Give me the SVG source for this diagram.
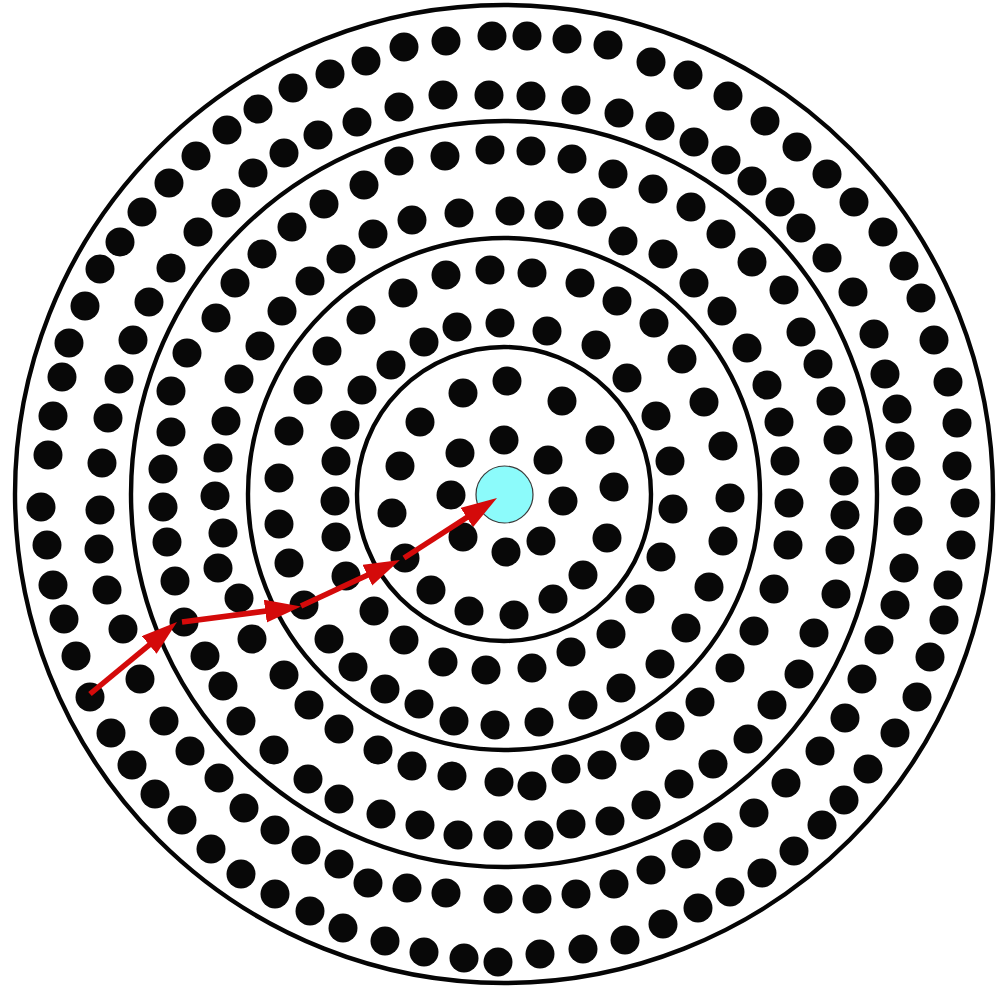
<svg xmlns="http://www.w3.org/2000/svg" width="1006" height="987" viewBox="0 0 1006 987">
<style>
.ring{fill:none;stroke:#050505;stroke-width:4.4}
.n circle{fill:#080808}
.hub circle{fill:#8cfbfb;stroke:#3a3a3a;stroke-width:1.2}
.arr{stroke:#d40a0a;stroke-width:5.5;fill:none}
</style>
<defs>
<marker id="ah" markerUnits="userSpaceOnUse" markerWidth="38" markerHeight="25" refX="26" refY="11.5" orient="auto">
<path d="M0,0 L36,11.5 L0,23 z" fill="#d40a0a"/>
</marker>
</defs>
<rect width="1006" height="987" fill="#fff"/>
<g id="rings">
<circle class="ring" cx="504" cy="494" r="489"/>
<circle class="ring" cx="504" cy="494" r="373"/>
<circle class="ring" cx="504" cy="494" r="256"/>
<circle class="ring" cx="504" cy="494" r="147"/>
</g>
<g id="nodes">
<g id="o1" class="n"><circle cx="366" cy="61" r="14.5"/></g>
<g id="o2" class="n"><circle cx="404" cy="47" r="14.5"/></g>
<g id="o3" class="n"><circle cx="446" cy="41" r="14.5"/></g>
<g id="o4" class="n"><circle cx="492" cy="36" r="14.5"/></g>
<g id="o5" class="n"><circle cx="527" cy="36" r="14.5"/></g>
<g id="o6" class="n"><circle cx="567" cy="39" r="14.5"/></g>
<g id="o7" class="n"><circle cx="608" cy="45" r="14.5"/></g>
<g id="o8" class="n"><circle cx="651" cy="62" r="14.5"/></g>
<g id="o9" class="n"><circle cx="688" cy="75" r="14.5"/></g>
<g id="o10" class="n"><circle cx="728" cy="96" r="14.5"/></g>
<g id="o11" class="n"><circle cx="765" cy="121" r="14.5"/></g>
<g id="o12" class="n"><circle cx="797" cy="147" r="14.5"/></g>
<g id="o13" class="n"><circle cx="827" cy="174" r="14.5"/></g>
<g id="o14" class="n"><circle cx="854" cy="202" r="14.5"/></g>
<g id="o15" class="n"><circle cx="883" cy="232" r="14.5"/></g>
<g id="o16" class="n"><circle cx="904" cy="266" r="14.5"/></g>
<g id="o17" class="n"><circle cx="921" cy="298" r="14.5"/></g>
<g id="o18" class="n"><circle cx="934" cy="340" r="14.5"/></g>
<g id="o19" class="n"><circle cx="948" cy="382" r="14.5"/></g>
<g id="o20" class="n"><circle cx="957" cy="423" r="14.5"/></g>
<g id="o21" class="n"><circle cx="957" cy="466" r="14.5"/></g>
<g id="o22" class="n"><circle cx="965" cy="503" r="14.5"/></g>
<g id="o23" class="n"><circle cx="961" cy="545" r="14.5"/></g>
<g id="o24" class="n"><circle cx="948" cy="585" r="14.5"/></g>
<g id="o25" class="n"><circle cx="944" cy="620" r="14.5"/></g>
<g id="o26" class="n"><circle cx="930" cy="657" r="14.5"/></g>
<g id="o27" class="n"><circle cx="917" cy="697" r="14.5"/></g>
<g id="o28" class="n"><circle cx="895" cy="733" r="14.5"/></g>
<g id="o29" class="n"><circle cx="868" cy="769" r="14.5"/></g>
<g id="o30" class="n"><circle cx="844" cy="800" r="14.5"/></g>
<g id="o31" class="n"><circle cx="822" cy="825" r="14.5"/></g>
<g id="o32" class="n"><circle cx="794" cy="851" r="14.5"/></g>
<g id="o33" class="n"><circle cx="762" cy="873" r="14.5"/></g>
<g id="o34" class="n"><circle cx="730" cy="892" r="14.5"/></g>
<g id="o35" class="n"><circle cx="698" cy="908" r="14.5"/></g>
<g id="o36" class="n"><circle cx="663" cy="924" r="14.5"/></g>
<g id="o37" class="n"><circle cx="625" cy="940" r="14.5"/></g>
<g id="o38" class="n"><circle cx="583" cy="949" r="14.5"/></g>
<g id="o39" class="n"><circle cx="540" cy="954" r="14.5"/></g>
<g id="o40" class="n"><circle cx="498" cy="962" r="14.5"/></g>
<g id="o41" class="n"><circle cx="464" cy="958" r="14.5"/></g>
<g id="o42" class="n"><circle cx="424" cy="952" r="14.5"/></g>
<g id="o43" class="n"><circle cx="385" cy="941" r="14.5"/></g>
<g id="o44" class="n"><circle cx="343" cy="928" r="14.5"/></g>
<g id="o45" class="n"><circle cx="310" cy="911" r="14.5"/></g>
<g id="o46" class="n"><circle cx="275" cy="894" r="14.5"/></g>
<g id="o47" class="n"><circle cx="241" cy="874" r="14.5"/></g>
<g id="o48" class="n"><circle cx="211" cy="849" r="14.5"/></g>
<g id="o49" class="n"><circle cx="182" cy="820" r="14.5"/></g>
<g id="o50" class="n"><circle cx="155" cy="794" r="14.5"/></g>
<g id="o51" class="n"><circle cx="132" cy="765" r="14.5"/></g>
<g id="o52" class="n"><circle cx="111" cy="733" r="14.5"/></g>
<g id="o53" class="n"><circle cx="90" cy="697" r="14.5"/></g>
<g id="o54" class="n"><circle cx="76" cy="656" r="14.5"/></g>
<g id="o55" class="n"><circle cx="64" cy="619" r="14.5"/></g>
<g id="o56" class="n"><circle cx="53" cy="585" r="14.5"/></g>
<g id="o57" class="n"><circle cx="47" cy="545" r="14.5"/></g>
<g id="o58" class="n"><circle cx="41" cy="507" r="14.5"/></g>
<g id="o59" class="n"><circle cx="48" cy="455" r="14.5"/></g>
<g id="o60" class="n"><circle cx="53" cy="416" r="14.5"/></g>
<g id="o61" class="n"><circle cx="62" cy="377" r="14.5"/></g>
<g id="o62" class="n"><circle cx="69" cy="343" r="14.5"/></g>
<g id="o63" class="n"><circle cx="85" cy="306" r="14.5"/></g>
<g id="o64" class="n"><circle cx="100" cy="269" r="14.5"/></g>
<g id="o65" class="n"><circle cx="120" cy="242" r="14.5"/></g>
<g id="o66" class="n"><circle cx="142" cy="212" r="14.5"/></g>
<g id="o67" class="n"><circle cx="169" cy="183" r="14.5"/></g>
<g id="o68" class="n"><circle cx="196" cy="156" r="14.5"/></g>
<g id="o69" class="n"><circle cx="227" cy="130" r="14.5"/></g>
<g id="o70" class="n"><circle cx="258" cy="109" r="14.5"/></g>
<g id="o71" class="n"><circle cx="293" cy="88" r="14.5"/></g>
<g id="o72" class="n"><circle cx="330" cy="74" r="14.5"/></g>
<g id="b1" class="n"><circle cx="357" cy="122" r="14.5"/></g>
<g id="b2" class="n"><circle cx="399" cy="107" r="14.5"/></g>
<g id="b3" class="n"><circle cx="443" cy="95" r="14.5"/></g>
<g id="b4" class="n"><circle cx="489" cy="95" r="14.5"/></g>
<g id="b5" class="n"><circle cx="531" cy="96" r="14.5"/></g>
<g id="b6" class="n"><circle cx="576" cy="100" r="14.5"/></g>
<g id="b7" class="n"><circle cx="619" cy="113" r="14.5"/></g>
<g id="b8" class="n"><circle cx="660" cy="126" r="14.5"/></g>
<g id="b9" class="n"><circle cx="694" cy="142" r="14.5"/></g>
<g id="b10" class="n"><circle cx="726" cy="160" r="14.5"/></g>
<g id="b11" class="n"><circle cx="752" cy="181" r="14.5"/></g>
<g id="b12" class="n"><circle cx="780" cy="202" r="14.5"/></g>
<g id="b13" class="n"><circle cx="801" cy="228" r="14.5"/></g>
<g id="b14" class="n"><circle cx="827" cy="258" r="14.5"/></g>
<g id="b15" class="n"><circle cx="853" cy="292" r="14.5"/></g>
<g id="b16" class="n"><circle cx="874" cy="334" r="14.5"/></g>
<g id="b17" class="n"><circle cx="885" cy="374" r="14.5"/></g>
<g id="b18" class="n"><circle cx="897" cy="409" r="14.5"/></g>
<g id="b19" class="n"><circle cx="900" cy="446" r="14.5"/></g>
<g id="b20" class="n"><circle cx="906" cy="481" r="14.5"/></g>
<g id="b21" class="n"><circle cx="908" cy="521" r="14.5"/></g>
<g id="b22" class="n"><circle cx="904" cy="568" r="14.5"/></g>
<g id="b23" class="n"><circle cx="895" cy="605" r="14.5"/></g>
<g id="b24" class="n"><circle cx="879" cy="640" r="14.5"/></g>
<g id="b25" class="n"><circle cx="862" cy="679" r="14.5"/></g>
<g id="b26" class="n"><circle cx="845" cy="718" r="14.5"/></g>
<g id="b27" class="n"><circle cx="820" cy="751" r="14.5"/></g>
<g id="b28" class="n"><circle cx="786" cy="783" r="14.5"/></g>
<g id="b29" class="n"><circle cx="754" cy="813" r="14.5"/></g>
<g id="b30" class="n"><circle cx="718" cy="837" r="14.5"/></g>
<g id="b31" class="n"><circle cx="686" cy="854" r="14.5"/></g>
<g id="b32" class="n"><circle cx="651" cy="870" r="14.5"/></g>
<g id="b33" class="n"><circle cx="614" cy="884" r="14.5"/></g>
<g id="b34" class="n"><circle cx="576" cy="894" r="14.5"/></g>
<g id="b35" class="n"><circle cx="537" cy="899" r="14.5"/></g>
<g id="b36" class="n"><circle cx="498" cy="899" r="14.5"/></g>
<g id="b37" class="n"><circle cx="446" cy="893" r="14.5"/></g>
<g id="b38" class="n"><circle cx="407" cy="888" r="14.5"/></g>
<g id="b39" class="n"><circle cx="368" cy="883" r="14.5"/></g>
<g id="b40" class="n"><circle cx="339" cy="864" r="14.5"/></g>
<g id="b41" class="n"><circle cx="306" cy="850" r="14.5"/></g>
<g id="b42" class="n"><circle cx="275" cy="830" r="14.5"/></g>
<g id="b43" class="n"><circle cx="244" cy="808" r="14.5"/></g>
<g id="b44" class="n"><circle cx="219" cy="778" r="14.5"/></g>
<g id="b45" class="n"><circle cx="190" cy="751" r="14.5"/></g>
<g id="b46" class="n"><circle cx="164" cy="721" r="14.5"/></g>
<g id="b47" class="n"><circle cx="140" cy="679" r="14.5"/></g>
<g id="b48" class="n"><circle cx="123" cy="629" r="14.5"/></g>
<g id="b49" class="n"><circle cx="107" cy="590" r="14.5"/></g>
<g id="b50" class="n"><circle cx="99" cy="549" r="14.5"/></g>
<g id="b51" class="n"><circle cx="100" cy="510" r="14.5"/></g>
<g id="b52" class="n"><circle cx="102" cy="463" r="14.5"/></g>
<g id="b53" class="n"><circle cx="108" cy="418" r="14.5"/></g>
<g id="b54" class="n"><circle cx="119" cy="379" r="14.5"/></g>
<g id="b55" class="n"><circle cx="133" cy="340" r="14.5"/></g>
<g id="b56" class="n"><circle cx="149" cy="302" r="14.5"/></g>
<g id="b57" class="n"><circle cx="171" cy="268" r="14.5"/></g>
<g id="b58" class="n"><circle cx="198" cy="232" r="14.5"/></g>
<g id="b59" class="n"><circle cx="226" cy="203" r="14.5"/></g>
<g id="b60" class="n"><circle cx="253" cy="173" r="14.5"/></g>
<g id="b61" class="n"><circle cx="284" cy="153" r="14.5"/></g>
<g id="b62" class="n"><circle cx="318" cy="135" r="14.5"/></g>
<g id="c1" class="n"><circle cx="364" cy="185" r="14.5"/></g>
<g id="c2" class="n"><circle cx="399" cy="161" r="14.5"/></g>
<g id="c3" class="n"><circle cx="445" cy="156" r="14.5"/></g>
<g id="c4" class="n"><circle cx="490" cy="150" r="14.5"/></g>
<g id="c5" class="n"><circle cx="531" cy="151" r="14.5"/></g>
<g id="c6" class="n"><circle cx="572" cy="159" r="14.5"/></g>
<g id="c7" class="n"><circle cx="613" cy="174" r="14.5"/></g>
<g id="c8" class="n"><circle cx="653" cy="189" r="14.5"/></g>
<g id="c9" class="n"><circle cx="691" cy="207" r="14.5"/></g>
<g id="c10" class="n"><circle cx="721" cy="234" r="14.5"/></g>
<g id="c11" class="n"><circle cx="752" cy="262" r="14.5"/></g>
<g id="c12" class="n"><circle cx="784" cy="290" r="14.5"/></g>
<g id="c13" class="n"><circle cx="801" cy="332" r="14.5"/></g>
<g id="c14" class="n"><circle cx="818" cy="364" r="14.5"/></g>
<g id="c15" class="n"><circle cx="831" cy="401" r="14.5"/></g>
<g id="c16" class="n"><circle cx="838" cy="440" r="14.5"/></g>
<g id="c17" class="n"><circle cx="844" cy="481" r="14.5"/></g>
<g id="c18" class="n"><circle cx="845" cy="515" r="14.5"/></g>
<g id="c19" class="n"><circle cx="840" cy="550" r="14.5"/></g>
<g id="c20" class="n"><circle cx="836" cy="594" r="14.5"/></g>
<g id="c21" class="n"><circle cx="814" cy="633" r="14.5"/></g>
<g id="c22" class="n"><circle cx="799" cy="674" r="14.5"/></g>
<g id="c23" class="n"><circle cx="772" cy="705" r="14.5"/></g>
<g id="c24" class="n"><circle cx="748" cy="739" r="14.5"/></g>
<g id="c25" class="n"><circle cx="713" cy="764" r="14.5"/></g>
<g id="c26" class="n"><circle cx="679" cy="784" r="14.5"/></g>
<g id="c27" class="n"><circle cx="646" cy="805" r="14.5"/></g>
<g id="c28" class="n"><circle cx="610" cy="821" r="14.5"/></g>
<g id="c29" class="n"><circle cx="571" cy="824" r="14.5"/></g>
<g id="c30" class="n"><circle cx="539" cy="835" r="14.5"/></g>
<g id="c31" class="n"><circle cx="498" cy="835" r="14.5"/></g>
<g id="c32" class="n"><circle cx="458" cy="835" r="14.5"/></g>
<g id="c33" class="n"><circle cx="420" cy="825" r="14.5"/></g>
<g id="c34" class="n"><circle cx="381" cy="814" r="14.5"/></g>
<g id="c35" class="n"><circle cx="339" cy="799" r="14.5"/></g>
<g id="c36" class="n"><circle cx="308" cy="779" r="14.5"/></g>
<g id="c37" class="n"><circle cx="274" cy="750" r="14.5"/></g>
<g id="c38" class="n"><circle cx="241" cy="721" r="14.5"/></g>
<g id="c39" class="n"><circle cx="223" cy="686" r="14.5"/></g>
<g id="c40" class="n"><circle cx="205" cy="656" r="14.5"/></g>
<g id="c41" class="n"><circle cx="184" cy="622" r="14.5"/></g>
<g id="c42" class="n"><circle cx="175" cy="581" r="14.5"/></g>
<g id="c43" class="n"><circle cx="167" cy="542" r="14.5"/></g>
<g id="c44" class="n"><circle cx="163" cy="507" r="14.5"/></g>
<g id="c45" class="n"><circle cx="163" cy="469" r="14.5"/></g>
<g id="c46" class="n"><circle cx="171" cy="432" r="14.5"/></g>
<g id="c47" class="n"><circle cx="171" cy="391" r="14.5"/></g>
<g id="c48" class="n"><circle cx="187" cy="353" r="14.5"/></g>
<g id="c49" class="n"><circle cx="216" cy="318" r="14.5"/></g>
<g id="c50" class="n"><circle cx="235" cy="283" r="14.5"/></g>
<g id="c51" class="n"><circle cx="262" cy="254" r="14.5"/></g>
<g id="c52" class="n"><circle cx="292" cy="227" r="14.5"/></g>
<g id="c53" class="n"><circle cx="324" cy="204" r="14.5"/></g>
<g id="e1" class="n"><circle cx="341" cy="259" r="14.5"/></g>
<g id="e2" class="n"><circle cx="373" cy="234" r="14.5"/></g>
<g id="e3" class="n"><circle cx="412" cy="220" r="14.5"/></g>
<g id="e4" class="n"><circle cx="459" cy="213" r="14.5"/></g>
<g id="e5" class="n"><circle cx="510" cy="211" r="14.5"/></g>
<g id="e6" class="n"><circle cx="549" cy="215" r="14.5"/></g>
<g id="e7" class="n"><circle cx="592" cy="212" r="14.5"/></g>
<g id="e8" class="n"><circle cx="623" cy="241" r="14.5"/></g>
<g id="e9" class="n"><circle cx="663" cy="254" r="14.5"/></g>
<g id="e10" class="n"><circle cx="694" cy="283" r="14.5"/></g>
<g id="e11" class="n"><circle cx="722" cy="311" r="14.5"/></g>
<g id="e12" class="n"><circle cx="747" cy="348" r="14.5"/></g>
<g id="e13" class="n"><circle cx="767" cy="385" r="14.5"/></g>
<g id="e14" class="n"><circle cx="779" cy="422" r="14.5"/></g>
<g id="e15" class="n"><circle cx="785" cy="461" r="14.5"/></g>
<g id="e16" class="n"><circle cx="789" cy="503" r="14.5"/></g>
<g id="e17" class="n"><circle cx="788" cy="545" r="14.5"/></g>
<g id="e18" class="n"><circle cx="774" cy="589" r="14.5"/></g>
<g id="e19" class="n"><circle cx="754" cy="631" r="14.5"/></g>
<g id="e20" class="n"><circle cx="730" cy="668" r="14.5"/></g>
<g id="e21" class="n"><circle cx="700" cy="702" r="14.5"/></g>
<g id="e22" class="n"><circle cx="670" cy="726" r="14.5"/></g>
<g id="e23" class="n"><circle cx="635" cy="746" r="14.5"/></g>
<g id="e24" class="n"><circle cx="602" cy="765" r="14.5"/></g>
<g id="e25" class="n"><circle cx="566" cy="769" r="14.5"/></g>
<g id="e26" class="n"><circle cx="532" cy="786" r="14.5"/></g>
<g id="e27" class="n"><circle cx="499" cy="782" r="14.5"/></g>
<g id="e28" class="n"><circle cx="452" cy="776" r="14.5"/></g>
<g id="e29" class="n"><circle cx="412" cy="766" r="14.5"/></g>
<g id="e30" class="n"><circle cx="378" cy="750" r="14.5"/></g>
<g id="e31" class="n"><circle cx="339" cy="729" r="14.5"/></g>
<g id="e32" class="n"><circle cx="309" cy="705" r="14.5"/></g>
<g id="e33" class="n"><circle cx="284" cy="675" r="14.5"/></g>
<g id="e34" class="n"><circle cx="252" cy="639" r="14.5"/></g>
<g id="e35" class="n"><circle cx="239" cy="598" r="14.5"/></g>
<g id="e36" class="n"><circle cx="218" cy="568" r="14.5"/></g>
<g id="e37" class="n"><circle cx="223" cy="533" r="14.5"/></g>
<g id="e38" class="n"><circle cx="215" cy="496" r="14.5"/></g>
<g id="e39" class="n"><circle cx="218" cy="458" r="14.5"/></g>
<g id="e40" class="n"><circle cx="226" cy="421" r="14.5"/></g>
<g id="e41" class="n"><circle cx="239" cy="379" r="14.5"/></g>
<g id="e42" class="n"><circle cx="260" cy="346" r="14.5"/></g>
<g id="e43" class="n"><circle cx="282" cy="311" r="14.5"/></g>
<g id="e44" class="n"><circle cx="310" cy="281" r="14.5"/></g>
<g id="f1" class="n"><circle cx="361" cy="320" r="14.5"/></g>
<g id="f2" class="n"><circle cx="403" cy="293" r="14.5"/></g>
<g id="f3" class="n"><circle cx="446" cy="275" r="14.5"/></g>
<g id="f4" class="n"><circle cx="490" cy="270" r="14.5"/></g>
<g id="f5" class="n"><circle cx="532" cy="273" r="14.5"/></g>
<g id="f6" class="n"><circle cx="580" cy="283" r="14.5"/></g>
<g id="f7" class="n"><circle cx="617" cy="301" r="14.5"/></g>
<g id="f8" class="n"><circle cx="654" cy="323" r="14.5"/></g>
<g id="f9" class="n"><circle cx="682" cy="359" r="14.5"/></g>
<g id="f10" class="n"><circle cx="704" cy="402" r="14.5"/></g>
<g id="f11" class="n"><circle cx="723" cy="446" r="14.5"/></g>
<g id="f12" class="n"><circle cx="730" cy="498" r="14.5"/></g>
<g id="f13" class="n"><circle cx="723" cy="541" r="14.5"/></g>
<g id="f14" class="n"><circle cx="709" cy="587" r="14.5"/></g>
<g id="f15" class="n"><circle cx="686" cy="628" r="14.5"/></g>
<g id="f16" class="n"><circle cx="660" cy="664" r="14.5"/></g>
<g id="f17" class="n"><circle cx="621" cy="688" r="14.5"/></g>
<g id="f18" class="n"><circle cx="583" cy="705" r="14.5"/></g>
<g id="f19" class="n"><circle cx="539" cy="722" r="14.5"/></g>
<g id="f20" class="n"><circle cx="495" cy="725" r="14.5"/></g>
<g id="f21" class="n"><circle cx="454" cy="721" r="14.5"/></g>
<g id="f22" class="n"><circle cx="419" cy="704" r="14.5"/></g>
<g id="f23" class="n"><circle cx="385" cy="689" r="14.5"/></g>
<g id="f24" class="n"><circle cx="353" cy="667" r="14.5"/></g>
<g id="f25" class="n"><circle cx="329" cy="639" r="14.5"/></g>
<g id="f26" class="n"><circle cx="304" cy="605" r="14.5"/></g>
<g id="f27" class="n"><circle cx="289" cy="563" r="14.5"/></g>
<g id="f28" class="n"><circle cx="279" cy="524" r="14.5"/></g>
<g id="f29" class="n"><circle cx="279" cy="478" r="14.5"/></g>
<g id="f30" class="n"><circle cx="289" cy="431" r="14.5"/></g>
<g id="f31" class="n"><circle cx="308" cy="390" r="14.5"/></g>
<g id="f32" class="n"><circle cx="327" cy="351" r="14.5"/></g>
<g id="g1" class="n"><circle cx="391" cy="365" r="14.5"/></g>
<g id="g2" class="n"><circle cx="424" cy="342" r="14.5"/></g>
<g id="g3" class="n"><circle cx="457" cy="327" r="14.5"/></g>
<g id="g4" class="n"><circle cx="500" cy="323" r="14.5"/></g>
<g id="g5" class="n"><circle cx="547" cy="331" r="14.5"/></g>
<g id="g6" class="n"><circle cx="596" cy="345" r="14.5"/></g>
<g id="g7" class="n"><circle cx="627" cy="378" r="14.5"/></g>
<g id="g8" class="n"><circle cx="656" cy="416" r="14.5"/></g>
<g id="g9" class="n"><circle cx="670" cy="461" r="14.5"/></g>
<g id="g10" class="n"><circle cx="673" cy="509" r="14.5"/></g>
<g id="g11" class="n"><circle cx="661" cy="557" r="14.5"/></g>
<g id="g12" class="n"><circle cx="640" cy="599" r="14.5"/></g>
<g id="g13" class="n"><circle cx="611" cy="634" r="14.5"/></g>
<g id="g14" class="n"><circle cx="571" cy="652" r="14.5"/></g>
<g id="g15" class="n"><circle cx="532" cy="668" r="14.5"/></g>
<g id="g16" class="n"><circle cx="486" cy="670" r="14.5"/></g>
<g id="g17" class="n"><circle cx="443" cy="662" r="14.5"/></g>
<g id="g18" class="n"><circle cx="404" cy="640" r="14.5"/></g>
<g id="g19" class="n"><circle cx="374" cy="611" r="14.5"/></g>
<g id="g20" class="n"><circle cx="346" cy="576" r="14.5"/></g>
<g id="g21" class="n"><circle cx="336" cy="537" r="14.5"/></g>
<g id="g22" class="n"><circle cx="335" cy="501" r="14.5"/></g>
<g id="g23" class="n"><circle cx="336" cy="461" r="14.5"/></g>
<g id="g24" class="n"><circle cx="345" cy="425" r="14.5"/></g>
<g id="g25" class="n"><circle cx="362" cy="390" r="14.5"/></g>
<g id="h1" class="n"><circle cx="507" cy="381" r="14.5"/></g>
<g id="h2" class="n"><circle cx="562" cy="401" r="14.5"/></g>
<g id="h3" class="n"><circle cx="600" cy="440" r="14.5"/></g>
<g id="h4" class="n"><circle cx="614" cy="487" r="14.5"/></g>
<g id="h5" class="n"><circle cx="607" cy="538" r="14.5"/></g>
<g id="h6" class="n"><circle cx="583" cy="575" r="14.5"/></g>
<g id="h7" class="n"><circle cx="553" cy="599" r="14.5"/></g>
<g id="h8" class="n"><circle cx="514" cy="615" r="14.5"/></g>
<g id="h9" class="n"><circle cx="469" cy="611" r="14.5"/></g>
<g id="h10" class="n"><circle cx="431" cy="590" r="14.5"/></g>
<g id="h11" class="n"><circle cx="405" cy="558" r="14.5"/></g>
<g id="h12" class="n"><circle cx="392" cy="513" r="14.5"/></g>
<g id="h13" class="n"><circle cx="400" cy="466" r="14.5"/></g>
<g id="h14" class="n"><circle cx="420" cy="422" r="14.5"/></g>
<g id="h15" class="n"><circle cx="463" cy="393" r="14.5"/></g>
<g id="i1" class="n"><circle cx="504" cy="440" r="14.5"/></g>
<g id="i2" class="n"><circle cx="548" cy="460" r="14.5"/></g>
<g id="i3" class="n"><circle cx="563" cy="501" r="14.5"/></g>
<g id="i4" class="n"><circle cx="541" cy="541" r="14.5"/></g>
<g id="i5" class="n"><circle cx="506" cy="552" r="14.5"/></g>
<g id="i6" class="n"><circle cx="463" cy="537" r="14.5"/></g>
<g id="i7" class="n"><circle cx="451" cy="495" r="14.5"/></g>
<g id="i8" class="n"><circle cx="460" cy="453" r="14.5"/></g>
<g id="hub" class="hub"><circle cx="504.5" cy="494.5" r="28.5"/></g>
</g>
<g id="connectors">
<line class="arr" x1="90" y1="694" x2="169.3" y2="628.4" marker-end="url(#ah)"/>
<line class="arr" x1="182" y1="622" x2="291.1" y2="607.8" marker-end="url(#ah)"/>
<line class="arr" x1="301" y1="606" x2="390.9" y2="564.2" marker-end="url(#ah)"/>
<line class="arr" x1="404" y1="558" x2="488.6" y2="503.4" marker-end="url(#ah)"/>
</g>
</svg>
